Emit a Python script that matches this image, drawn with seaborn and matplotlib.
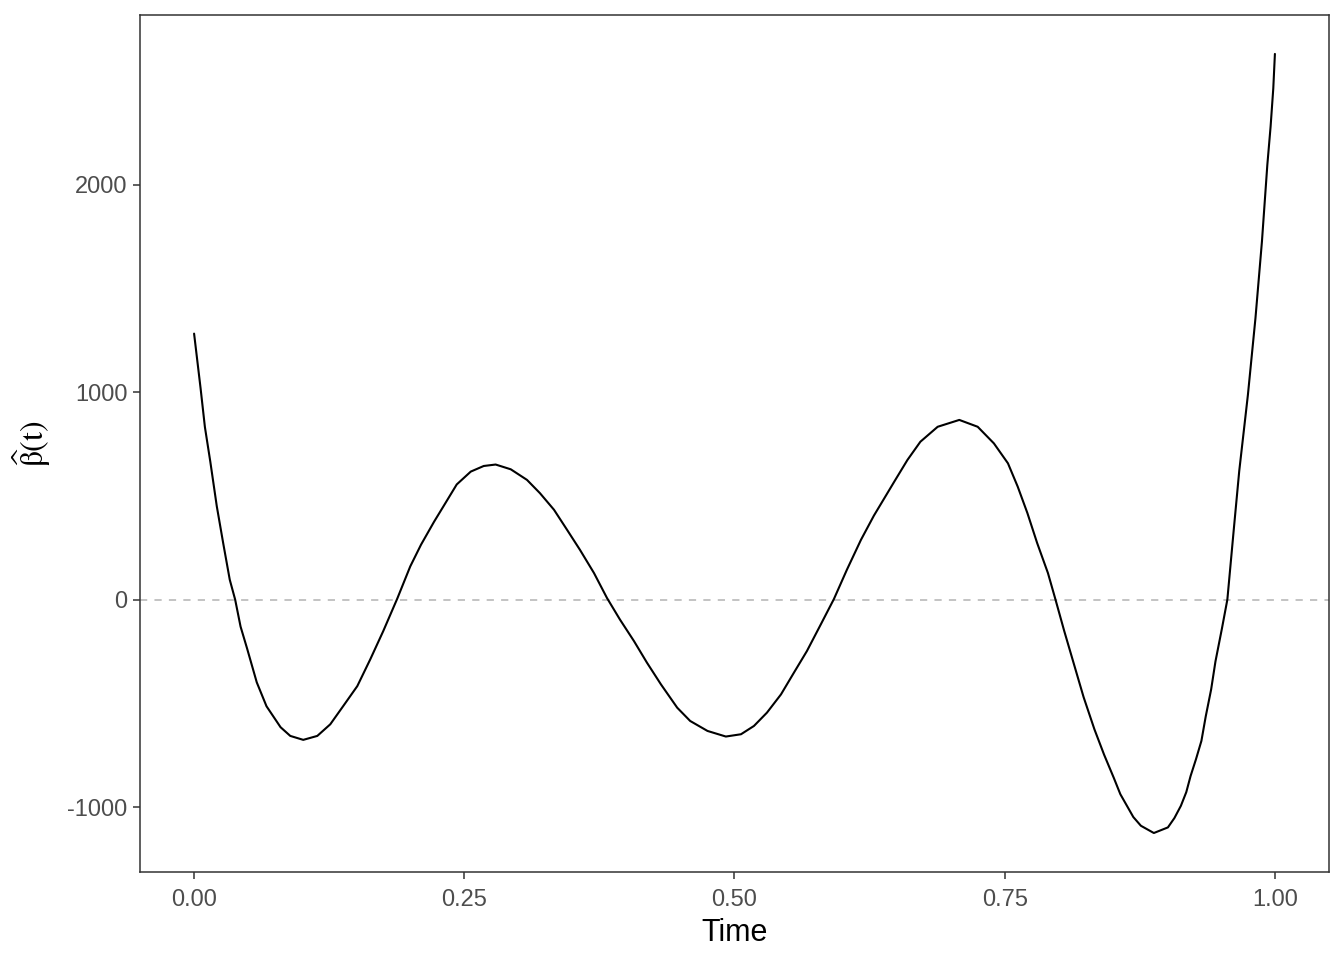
import numpy as np
import pandas as pd
import matplotlib
matplotlib.use("Agg")
import matplotlib.pyplot as plt
import seaborn as sns

# values
time = [0.000, 0.006, 0.010, 0.015, 0.021, 0.027, 0.033, 0.038, 0.043, 0.049,
        0.058, 0.067, 0.080, 0.089, 0.101, 0.114, 0.126, 0.138, 0.151, 0.163,
        0.175, 0.188, 0.200, 0.210, 0.222, 0.231, 0.243, 0.256, 0.268, 0.279,
        0.293, 0.308, 0.320, 0.333, 0.345, 0.357, 0.370, 0.382, 0.394, 0.407,
        0.419, 0.432, 0.447, 0.459, 0.475, 0.492, 0.506, 0.518, 0.530, 0.543,
        0.555, 0.567, 0.580, 0.592, 0.604, 0.617, 0.629, 0.635, 0.648, 0.660,
        0.672, 0.688, 0.708, 0.725, 0.740, 0.753, 0.762, 0.771, 0.780, 0.790,
        0.797, 0.805, 0.814, 0.823, 0.833, 0.842, 0.851, 0.857, 0.869, 0.876,
        0.888, 0.901, 0.907, 0.913, 0.918, 0.922, 0.927, 0.932, 0.936, 0.941,
        0.945, 0.951, 0.956, 0.962, 0.967, 0.975, 0.982, 0.988, 0.993, 0.996,
        0.9985, 1.000]
beta = [1282, 1019, 832, 665, 450, 270, 96, 0, -130, -235,
        -399, -514, -615, -657, -676, -657, -601, -513, -417, -288,
        -152, 5, 160, 265, 375, 452, 555, 617, 644, 651,
        628, 577, 513, 433, 337, 240, 128, 8, -96, -200,
        -304, -409, -521, -585, -633, -660, -649, -609, -545, -457,
        -352, -248, -118, 3, 144, 288, 405, 457, 570, 673,
        761, 833, 866, 833, 753, 657, 545, 417, 273, 128,
        0, -150, -310, -470, -625, -748, -860, -938, -1048, -1090,
        -1125, -1098, -1053, -994, -928, -850, -769, -681, -563, -433,
        -298, -139, 0, 341, 620, 986, 1356, 1726, 2096, 2279,
        2464, 2630]

df = pd.DataFrame({"Time": time, "beta": beta})

sns.set_style("white")
plt.rcParams["font.family"] = ["Liberation Sans", "DejaVu Sans"]
plt.rcParams["mathtext.fontset"] = "stix"

fig = plt.figure(figsize=(13.44, 9.6), dpi=100)
ax = fig.add_axes([0.1042, 0.0917, 0.8846, 0.8927])

ax.axhline(0, color="#BEBEBE", linestyle=(0, (4, 4)), linewidth=1.3, zorder=1)
sns.lineplot(data=df, x="Time", y="beta", color="black", linewidth=1.5,
             ax=ax, zorder=2)

ymin, ymax = min(beta), max(beta)
pad = (ymax - ymin) * 0.05
ax.set_ylim(ymin - pad, ymax + pad)
ax.set_xlim(-0.05, 1.05)

ax.set_xticks([0, 0.25, 0.5, 0.75, 1.0])
ax.set_xticklabels(["0.00", "0.25", "0.50", "0.75", "1.00"])
ax.set_yticks([-1000, 0, 1000, 2000])
ax.set_yticklabels(["-1000", "0", "1000", "2000"])

ax.tick_params(axis="both", which="major", direction="out", length=5,
               width=1.1, color="#333333", labelcolor="#4D4D4D",
               labelsize=17, bottom=True, left=True)
ax.tick_params(axis="x", pad=7)
ax.tick_params(axis="y", pad=4)
for s in ax.spines.values():
    s.set_color("#333333")
    s.set_linewidth(1.1)

ax.set_xlabel("Time", fontsize=22, color="black", labelpad=5)
ax.set_ylabel(r"$\widehat{\mathrm{\beta}}(\mathrm{t})$", fontsize=23,
              color="black", labelpad=10)

fig.savefig("out.png", dpi=100)
